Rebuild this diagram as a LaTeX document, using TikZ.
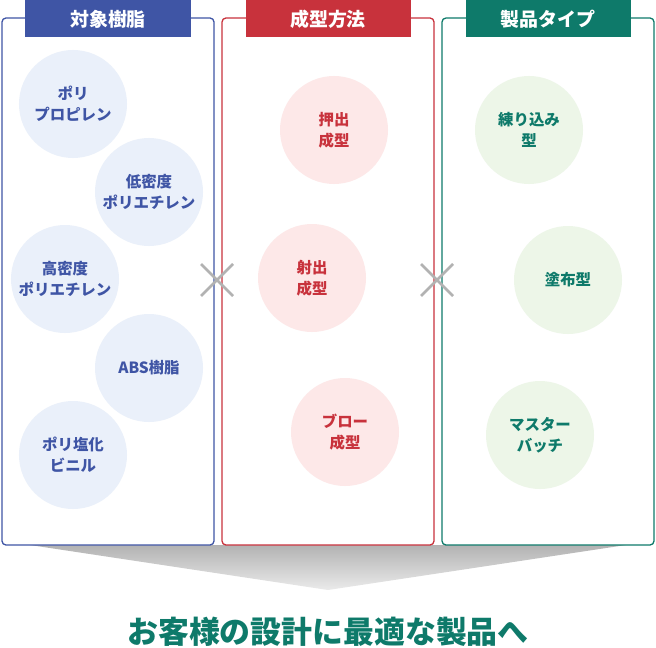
\documentclass[tikz,border=0pt]{standalone}
\usepackage{fontspec}
\setmainfont{Noto Sans CJK JP}
\usetikzlibrary{shapes.geometric}
\definecolor{resinblue}{HTML}{3F55A5}
\definecolor{formred}{HTML}{C8323C}
\definecolor{typegreen}{HTML}{0E7A6A}
\definecolor{resinfill}{HTML}{EAF0FA}
\definecolor{formfill}{HTML}{FDE8E8}
\definecolor{typefill}{HTML}{EDF6E8}
\tikzstyle{panel} = [rectangle, rounded corners=4, line width=1.3pt, fill=white]
\tikzstyle{tab} = [rectangle, minimum width=165bp, minimum height=37bp, text=white, font=\bfseries\fontsize{19}{22}\selectfont]
\tikzstyle{item} = [circle, minimum size=108bp, inner sep=0pt, align=center, font=\bfseries\fontsize{15.5}{21}\selectfont]
\tikzstyle{cross} = [line width=2.5pt, draw=black!30]
\begin{document}
\begin{tikzpicture}[x=1bp,y=-1bp]
\useasboundingbox (0,0) rectangle (656,648);
% bottom band
\shade[top color=black!30, bottom color=black!8] (30,545) -- (626,545) -- (328,590) -- cycle;
% panels
\draw[panel, draw=resinblue] (2,18) rectangle (214,545);
\draw[panel, draw=formred] (222,18) rectangle (434,545);
\draw[panel, draw=typegreen] (442,18) rectangle (654,545);
\node (resin) [tab, fill=resinblue] at (108,19) {対象樹脂};
\node (form) [tab, fill=formred] at (328,19) {成型方法};
\node (type) [tab, fill=typegreen] at (548,19) {製品タイプ};
% resins
\node (pp) [item, fill=resinfill, text=resinblue] at (73,104) {ポリ\\プロピレン};
\node (ldpe) [item, fill=resinfill, text=resinblue] at (149,192) {低密度\\ポリエチレン};
\node (hdpe) [item, fill=resinfill, text=resinblue] at (65,279) {高密度\\ポリエチレン};
\node (abs) [item, fill=resinfill, text=resinblue] at (149,368) {ABS樹脂};
\node (pvc) [item, fill=resinfill, text=resinblue] at (73,455) {ポリ塩化\\ビニル};
% methods
\node (extr) [item, fill=formfill, text=formred] at (334,130) {押出\\成型};
\node (inj) [item, fill=formfill, text=formred] at (312,278) {射出\\成型};
\node (blow) [item, fill=formfill, text=formred] at (345,432) {ブロー\\成型};
% products
\node (knead) [item, fill=typefill, text=typegreen] at (529,130) {練り込み\\型};
\node (coat) [item, fill=typefill, text=typegreen] at (568,280) {塗布型};
\node (mb) [item, fill=typefill, text=typegreen] at (540,435) {マスター\\バッチ};
% crosses
\draw[cross] (201,264) -- (233,296) (201,296) -- (233,264);
\draw[cross] (421,264) -- (453,296) (421,296) -- (453,264);
\node (goal) [text=typegreen, font=\bfseries\fontsize{31}{34}\selectfont] at (328,632) {お客様の設計に最適な製品へ};
\end{tikzpicture}
\end{document}
